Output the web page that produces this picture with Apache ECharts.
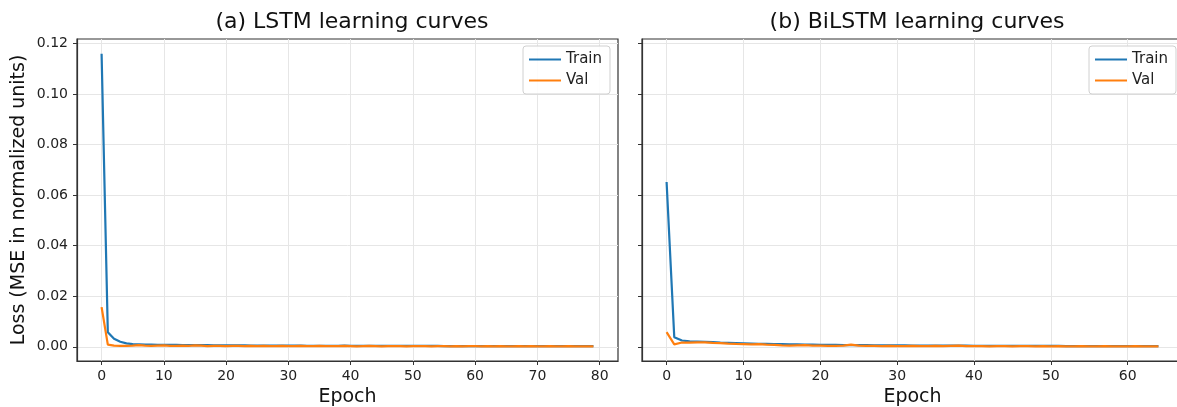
<!DOCTYPE html>
<html>
<head>
<meta charset="utf-8">
<script src="https://cdn.jsdelivr.net/npm/echarts@6/dist/echarts.min.js"></script>
<style>
  html, body { margin: 0; padding: 0; background: #fff; }
  #chart { width: 1177px; height: 407px; }
</style>
</head>
<body>
<div id="chart"></div>
<script>
// values
let lstm_train = [
    0.1160, 0.0058, 0.0032, 0.0020, 0.0014, 0.0011, 0.0010, 0.0009, 0.0009, 0.0008,
    0.0008, 0.0008, 0.0008, 0.0007, 0.0007, 0.0007, 0.0007, 0.0007, 0.0006, 0.0006,
    0.0006, 0.0006, 0.0006, 0.0006, 0.0005, 0.0005, 0.0005, 0.0005, 0.0005, 0.0005,
    0.0005, 0.0005, 0.0005, 0.0004, 0.0004, 0.0004, 0.0004, 0.0004, 0.0004, 0.0005,
    0.0004, 0.0004, 0.0004, 0.0004, 0.0004, 0.0004, 0.0004, 0.0004, 0.0004, 0.0004,
    0.0004, 0.0004, 0.0004, 0.0004, 0.0004, 0.0003, 0.0003, 0.0003, 0.0003, 0.0003,
    0.0003, 0.0003, 0.0003, 0.0003, 0.0003, 0.0003, 0.0003, 0.0003, 0.0003, 0.0003,
    0.0003, 0.0003, 0.0003, 0.0003, 0.0003, 0.0003, 0.0003, 0.0003, 0.0003, 0.0003
];
let lstm_val = [
    0.0157, 0.0009, 0.0005, 0.0004, 0.0004, 0.0005, 0.0007, 0.0005, 0.0004, 0.0005,
    0.0006, 0.0004, 0.0004, 0.0005, 0.0004, 0.0006, 0.0005, 0.0003, 0.0004, 0.0004,
    0.0003, 0.0004, 0.0004, 0.0003, 0.0004, 0.0003, 0.0004, 0.0003, 0.0003, 0.0004,
    0.0003, 0.0003, 0.0004, 0.0003, 0.0003, 0.0004, 0.0003, 0.0003, 0.0003, 0.0004,
    0.0003, 0.0002, 0.0003, 0.0004, 0.0003, 0.0002, 0.0003, 0.0003, 0.0003, 0.0002,
    0.0003, 0.0003, 0.0003, 0.0002, 0.0003, 0.0003, 0.0002, 0.0003, 0.0002, 0.0003,
    0.0003, 0.0002, 0.0003, 0.0002, 0.0003, 0.0002, 0.0002, 0.0003, 0.0002, 0.0003,
    0.0002, 0.0002, 0.0003, 0.0002, 0.0002, 0.0003, 0.0002, 0.0002, 0.0002, 0.0002
];
let bilstm_train = [
    0.0652, 0.0038, 0.0025, 0.0022, 0.0021, 0.0020, 0.0019, 0.0017, 0.0016, 0.0015,
    0.0014, 0.0013, 0.0012, 0.0012, 0.0011, 0.0011, 0.0010, 0.0010, 0.0009, 0.0009,
    0.0008, 0.0008, 0.0008, 0.0007, 0.0007, 0.0007, 0.0007, 0.0006, 0.0006, 0.0006,
    0.0006, 0.0006, 0.0005, 0.0005, 0.0005, 0.0005, 0.0005, 0.0005, 0.0005, 0.0005,
    0.0004, 0.0004, 0.0004, 0.0004, 0.0004, 0.0004, 0.0004, 0.0004, 0.0004, 0.0004,
    0.0004, 0.0004, 0.0003, 0.0003, 0.0003, 0.0003, 0.0003, 0.0003, 0.0003, 0.0003,
    0.0003, 0.0003, 0.0003, 0.0003, 0.0003
];
let bilstm_val = [
    0.0058, 0.0010, 0.0017, 0.0017, 0.0018, 0.0018, 0.0016, 0.0015, 0.0013, 0.0012,
    0.0011, 0.0010, 0.0011, 0.0009, 0.0008, 0.0006, 0.0005, 0.0006, 0.0007, 0.0005,
    0.0005, 0.0004, 0.0004, 0.0005, 0.0009, 0.0005, 0.0004, 0.0004, 0.0003, 0.0004,
    0.0003, 0.0003, 0.0004, 0.0003, 0.0003, 0.0004, 0.0003, 0.0004, 0.0005, 0.0003,
    0.0003, 0.0003, 0.0002, 0.0003, 0.0003, 0.0002, 0.0003, 0.0003, 0.0002, 0.0003,
    0.0002, 0.0003, 0.0002, 0.0002, 0.0003, 0.0002, 0.0002, 0.0003, 0.0002, 0.0002,
    0.0002, 0.0003, 0.0002, 0.0002, 0.0002
];
let x_ticks_a = [0, 10, 20, 30, 40, 50, 60, 70, 80];
let x_ticks_b = [0, 10, 20, 30, 40, 50, 60];
let y_ticks = [0, 0.02, 0.04, 0.06, 0.08, 0.10, 0.12];

const FONT = '"DejaVu Sans", sans-serif';
const C_TRAIN = '#1f77b4';
const C_VAL = '#ff7f0e';

function pairs(arr) {
    return arr.map(function (v, i) { return [i, v]; });
}

function xAxisFor(idx, ticks, min, max) {
    return {
        type: 'value', gridIndex: idx, min: min, max: max,
        name: 'Epoch', nameLocation: 'middle', nameGap: 24,
        nameTextStyle: { fontFamily: FONT, fontSize: 19, color: '#111' },
        axisLine: { show: true, onZero: false, lineStyle: { color: '#333', width: 1.2 } },
        axisTick: { show: true, length: 4, customValues: ticks, lineStyle: { color: '#333' } },
        axisLabel: { customValues: ticks, margin: 8, fontFamily: FONT, fontSize: 14, color: '#222' },
        splitLine: { show: true, lineStyle: { color: '#e6e6e6', width: 1 } }
    };
}

function yAxisFor(idx, showLabels) {
    return {
        type: 'value', gridIndex: idx, min: -0.0056, max: 0.1218,
        name: showLabels ? 'Loss (MSE in normalized units)' : '',
        nameLocation: 'middle', nameGap: 48,
        nameTextStyle: { fontFamily: FONT, fontSize: 19, color: '#111' },
        axisLine: { show: true, onZero: false, lineStyle: { color: '#333', width: 1.2 } },
        axisTick: { show: true, length: 4, customValues: y_ticks, lineStyle: { color: '#333' } },
        axisLabel: {
            show: showLabels, customValues: y_ticks, margin: 9,
            fontFamily: FONT, fontSize: 14, color: '#222',
            formatter: function (v) { return v.toFixed(2); }
        },
        splitLine: { show: true, lineStyle: { color: '#e6e6e6', width: 1 } }
    };
}

function lineSeries(name, data, color, idx) {
    return {
        name: name, type: 'line', data: pairs(data),
        xAxisIndex: idx, yAxisIndex: idx,
        showSymbol: false, symbol: 'none', smooth: false,
        lineStyle: { color: color, width: 2.2 },
        itemStyle: { color: color },
        z: name === 'Val' ? 3 : 2
    };
}

function legendAt(idx, left) {
    return {
        orient: 'vertical', left: left, top: 46,
        data: ['Train', 'Val'],
        icon: 'rect', itemWidth: 32, itemHeight: 2, itemGap: 6,
        padding: [6, 8, 6, 6],
        borderColor: '#d0d0d0', borderWidth: 1, borderRadius: 3,
        backgroundColor: 'rgba(255,255,255,0.85)',
        textStyle: { fontFamily: FONT, fontSize: 15, color: '#222' },
        selectedMode: false
    };
}

let option = {
    animation: false,
    backgroundColor: '#fff',
    title: [
        { text: '(a) LSTM learning curves', left: 347, top: 6, textAlign: 'center',
          textStyle: { fontFamily: FONT, fontSize: 22, fontWeight: 'normal', color: '#111' } },
        { text: '(b) BiLSTM learning curves', left: 912, top: 6, textAlign: 'center',
          textStyle: { fontFamily: FONT, fontSize: 22, fontWeight: 'normal', color: '#111' } }
    ],
    legend: [legendAt(0, 523), legendAt(1, 1089)],
    grid: [
        { left: 77, top: 39, width: 541, height: 322, outerBoundsMode: 'none',
          show: true, borderColor: '#333', borderWidth: 1.2 },
        { left: 642, top: 39, width: 541, height: 322, outerBoundsMode: 'none',
          show: true, borderColor: '#333', borderWidth: 1.2 }
    ],
    xAxis: [xAxisFor(0, x_ticks_a, -3.95, 82.95), xAxisFor(1, x_ticks_b, -3.2, 67.2)],
    yAxis: [yAxisFor(0, true), yAxisFor(1, false)],
    series: [
        lineSeries('Train', lstm_train, C_TRAIN, 0),
        lineSeries('Val', lstm_val, C_VAL, 0),
        lineSeries('Train', bilstm_train, C_TRAIN, 1),
        lineSeries('Val', bilstm_val, C_VAL, 1)
    ]
};

let myChart = echarts.init(document.getElementById('chart'));
myChart.setOption(option);
</script>
</body>
</html>
